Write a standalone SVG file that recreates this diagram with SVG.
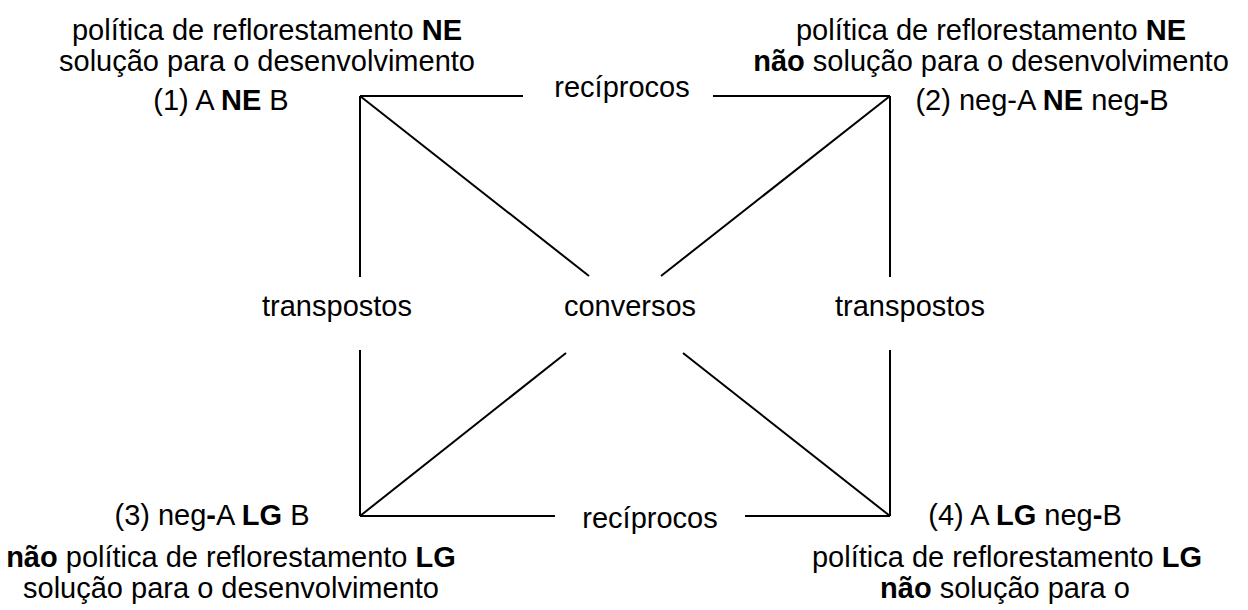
<svg xmlns="http://www.w3.org/2000/svg" width="1248" height="610" viewBox="0 0 1248 610">
<style>
text{font-family:"Liberation Sans",Arial,sans-serif;font-size:29px;fill:#000;text-anchor:middle}
.b{font-weight:bold}
#connectors line{stroke:#000;stroke-width:2;fill:none}
</style>
<rect width="1248" height="610" fill="#fff"/>
<g id="connectors">
<line x1="360" y1="96" x2="523" y2="96"/>
<line x1="713" y1="96" x2="890" y2="96"/>
<line x1="360" y1="96" x2="360" y2="277"/>
<line x1="360" y1="350" x2="360" y2="516"/>
<line x1="890" y1="96" x2="890" y2="277"/>
<line x1="890" y1="350" x2="890" y2="516"/>
<line x1="360" y1="96" x2="589" y2="276"/>
<line x1="890" y1="96" x2="661" y2="276"/>
<line x1="360" y1="516" x2="566" y2="353"/>
<line x1="890" y1="516" x2="683" y2="353"/>
<line x1="360" y1="516" x2="555" y2="516"/>
<line x1="745" y1="516" x2="890" y2="516"/>
</g>
<g id="n1">
<text x="267" y="40">política de reflorestamento <tspan class="b">NE</tspan></text>
<text x="267" y="71">solução para o desenvolvimento</text>
<text x="221" y="110">(1) A <tspan class="b">NE</tspan> B</text>
</g>
<g id="n2">
<text x="991" y="40">política de reflorestamento <tspan class="b">NE</tspan></text>
<text x="991" y="71"><tspan class="b">não</tspan> solução para o desenvolvimento</text>
<text x="1042" y="110">(2) neg-A <tspan class="b">NE</tspan> neg<tspan class="b">-</tspan>B</text>
</g>
<g id="n3">
<text x="212" y="525">(3) neg<tspan class="b">-</tspan>A <tspan class="b">LG</tspan> B</text>
<text x="231" y="567"><tspan class="b">não</tspan> política de reflorestamento <tspan class="b">LG</tspan></text>
<text x="231" y="598">solução para o desenvolvimento</text>
</g>
<g id="n4">
<text x="1025" y="525">(4) A <tspan class="b">LG</tspan> neg<tspan class="b">-</tspan>B</text>
<text x="1007" y="567">política de reflorestamento <tspan class="b">LG</tspan></text>
<text x="1005" y="598"><tspan class="b">não</tspan> solução para o</text>
</g>
<g id="labels">
<text x="622" y="97">recíprocos</text>
<text x="650" y="528">recíprocos</text>
<text x="337" y="316">transpostos</text>
<text x="630" y="316">conversos</text>
<text x="910" y="316">transpostos</text>
</g>
</svg>
